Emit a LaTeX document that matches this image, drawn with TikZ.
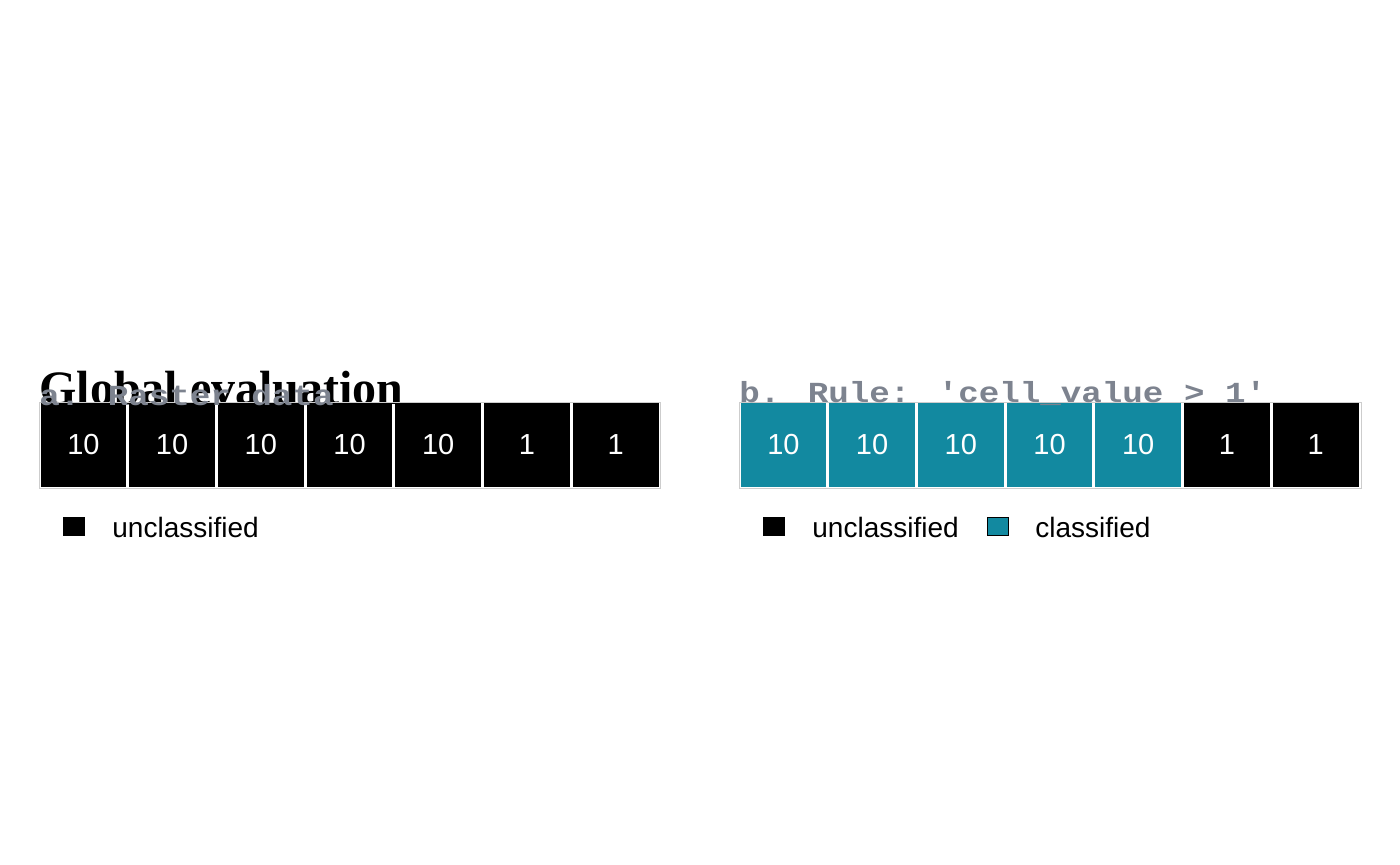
\documentclass[tikz,border=0pt]{standalone}
\usepackage{fontspec}
\setmainfont{Liberation Sans}
\newfontfamily\titlefont{Liberation Serif}
\newfontfamily\monofont{Liberation Mono}
\definecolor{tealc}{RGB}{18,137,160}
\definecolor{slatec}{RGB}{125,131,143}
\definecolor{framec}{RGB}{205,205,205}
\newcommand{\squash}[1]{\scalebox{1}[0.85]{#1}}
\begin{document}
\begin{tikzpicture}[x=0.5pt,y=-0.5pt,
  cellbox/.style={rectangle,inner sep=0pt,minimum width=42.85pt,minimum height=41.5pt,
    text=white,font=\fontsize{14.5}{16}\selectfont},
  cellblack/.style={cellbox,fill=black},
  cellteal/.style={cellbox,fill=tealc},
  paneltitle/.style={anchor=base west,inner sep=0pt,text=slatec,
    font=\monofont\bfseries\fontsize{17.1}{20}\selectfont},
  legkey/.style={rectangle,draw=black,line width=0.5pt,inner sep=0pt,minimum width=10.5pt,minimum height=9pt},
  legtext/.style={anchor=base west,inner sep=0pt,font=\fontsize{14}{16}\selectfont},
  panelframe/.style={draw=framec,line width=0.4pt}
]
\useasboundingbox[fill=white] (0,0) rectangle (1400,865);
% overall title
\node[anchor=base west,inner sep=0pt,font=\titlefont\bfseries\fontsize{24}{28}\selectfont] (gtitle) at (39,405) {Global evaluation};
% panel frames
\draw[panelframe] (39,402) rectangle (660,488);
\draw[panelframe] (739,402) rectangle (1361,488);
% panel a cells
\node[cellblack] (a1) at (83.4,445) {10};
\node[cellblack] (a2) at (172.1,445) {10};
\node[cellblack] (a3) at (260.8,445) {10};
\node[cellblack] (a4) at (349.5,445) {10};
\node[cellblack] (a5) at (438.2,445) {10};
\node[cellblack] (a6) at (527.0,445) {1};
\node[cellblack] (a7) at (615.7,445) {1};
% panel b cells
\node[cellteal] (b1) at (783.4,445) {10};
\node[cellteal] (b2) at (872.1,445) {10};
\node[cellteal] (b3) at (960.8,445) {10};
\node[cellteal] (b4) at (1049.5,445) {10};
\node[cellteal] (b5) at (1138.2,445) {10};
\node[cellblack] (b6) at (1227.0,445) {1};
\node[cellblack] (b7) at (1315.7,445) {1};
% panel titles
\node[paneltitle] (atitle) at (39,406) {\squash{a. Raster data}};
\node[paneltitle] (btitle) at (739,402) {\squash{b. Rule: 'cell\_value > 1'}};
% legends
\node[legkey,fill=black] (ak1) at (74,526.5) {};
\node[legtext] (al1) at (112,537) {unclassified};
\node[legkey,fill=black] (bk1) at (774,526.5) {};
\node[legtext] (bl1) at (812,537) {unclassified};
\node[legkey,fill=tealc] (bk2) at (997.5,526.5) {};
\node[legtext] (bl2) at (1035,537) {classified};
\end{tikzpicture}
\end{document}
